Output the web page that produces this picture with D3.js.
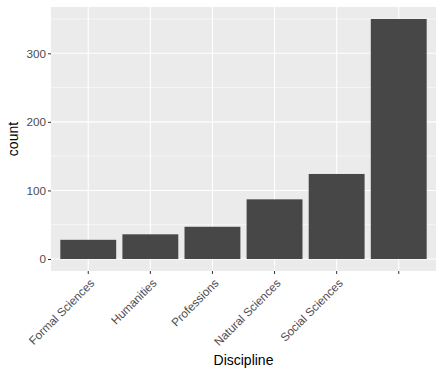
<!DOCTYPE html>
<html>
<head>
<meta charset="utf-8">
<script src="https://cdn.jsdelivr.net/npm/d3@7"></script>
<style>
  body { margin: 0; background: #fff; }
  svg text { font-family: "Liberation Sans", Arial, sans-serif; }
</style>
</head>
<body>
<svg id="chart" width="443" height="375"></svg>
<script>
var disciplines = ["Formal Sciences", "Humanities", "Professions", "Natural Sciences", "Social Sciences", ""]
var counts = [28, 36, 47, 87, 124, 350]
var yTicks = [0, 100, 200, 300]
var yMinor = [50, 150, 250, 350]

var margin = {top: 7, right: 7, bottom: 104, left: 51}
var width = 443 - margin.left - margin.right
var height = 375 - margin.top - margin.bottom

var svg = d3.select("#chart")
var g = svg.append("g")
    .attr("transform", "translate(" + margin.left + "," + margin.top + ")")

// panel background
g.append("rect")
    .attr("width", width)
    .attr("height", height)
    .attr("fill", "#ebebeb")

var xScale = d3.scaleBand()
    .domain(disciplines)
    .range([0, width])
    .paddingInner(0.1)
    .paddingOuter(0.15)

var maxVal = d3.max(counts)
var yScale = d3.scaleLinear()
    .domain([-0.05 * maxVal, 1.05 * maxVal])
    .range([height, 0])

// minor grid
g.selectAll(".minor")
    .data(yMinor)
    .enter().append("line")
    .attr("x1", 0).attr("x2", width)
    .attr("y1", function (d) { return yScale(d) })
    .attr("y2", function (d) { return yScale(d) })
    .attr("stroke", "#fff")
    .attr("stroke-width", 0.55)

// major grid
g.selectAll(".major")
    .data(yTicks)
    .enter().append("line")
    .attr("x1", 0).attr("x2", width)
    .attr("y1", function (d) { return yScale(d) })
    .attr("y2", function (d) { return yScale(d) })
    .attr("stroke", "#fff")
    .attr("stroke-width", 1.1)

g.selectAll(".vgrid")
    .data(disciplines)
    .enter().append("line")
    .attr("x1", function (d) { return xScale(d) + xScale.bandwidth() / 2 })
    .attr("x2", function (d) { return xScale(d) + xScale.bandwidth() / 2 })
    .attr("y1", 0).attr("y2", height)
    .attr("stroke", "#fff")
    .attr("stroke-width", 1.1)

// bars
g.selectAll(".bar")
    .data(counts)
    .enter().append("rect")
    .attr("x", function (d, i) { return xScale(disciplines[i]) })
    .attr("width", xScale.bandwidth())
    .attr("y", function (d) { return yScale(d) })
    .attr("height", function (d) { return yScale(0) - yScale(d) })
    .attr("fill", "#474747")

// y axis
var yAxis = g.append("g")
    .call(d3.axisLeft(yScale).tickValues(yTicks).tickSize(3).tickPadding(2))
yAxis.select(".domain").remove()
yAxis.selectAll("line").attr("stroke", "#333")
yAxis.selectAll("text")
    .attr("fill", "#4d4d4d")
    .style("font-size", "11.7px")

// x axis
var xAxis = g.append("g")
    .attr("transform", "translate(0," + height + ")")
    .call(d3.axisBottom(xScale).tickSize(3))
xAxis.select(".domain").remove()
xAxis.selectAll("line").attr("stroke", "#333")
xAxis.selectAll("text")
    .attr("fill", "#4d4d4d")
    .style("font-size", "11.7px")
    .attr("text-anchor", "end")
    .attr("x", 0).attr("y", 0).attr("dy", "0.72em")
    .attr("transform", "translate(1,7) rotate(-45)")

// axis titles
svg.append("text")
    .attr("x", margin.left + width / 2)
    .attr("y", 365)
    .attr("text-anchor", "middle")
    .style("font-size", "14px")
    .attr("fill", "#000")
    .text("Discipline")

svg.append("text")
    .attr("transform", "translate(18," + (margin.top + height / 2) + ") rotate(-90)")
    .attr("text-anchor", "middle")
    .style("font-size", "14px")
    .attr("fill", "#000")
    .text("count")
</script>
</body>
</html>
